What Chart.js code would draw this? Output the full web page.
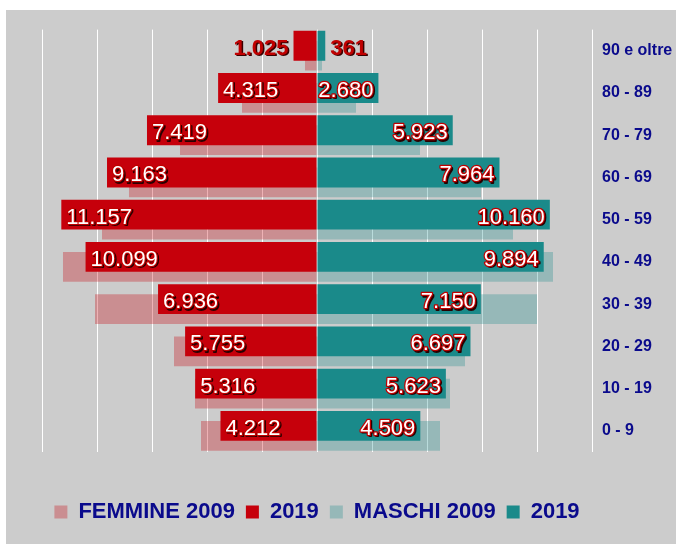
<!DOCTYPE html>
<html><head><meta charset="utf-8">
<script src="https://cdn.jsdelivr.net/npm/chart.js@4"></script>
<style>
html,body{margin:0;padding:0;background:#ffffff;}
#wrap{position:absolute;left:6px;top:10px;width:670px;height:534px;background:#cccccc;}
canvas{display:block;}
</style></head><body>
<div id="wrap"><canvas id="c" width="670" height="534"></canvas></div>
<script>
const categories = ['90 e oltre','80 - 89','70 - 79','60 - 69','50 - 59','40 - 49','30 - 39','20 - 29','10 - 19','0 - 9'];
const femmine2009 = [524, 3273, 5978, 8204, 9382, 11084, 9687, 6240, 5324, 5062];
const femmine2019 = [1025, 4315, 7419, 9163, 11157, 10099, 6936, 5755, 5316, 4212];
const maschi2009 = [218, 1702, 4495, 7156, 8553, 10298, 9600, 6458, 5804, 5367];
const maschi2019 = [361, 2680, 5923, 7964, 10160, 9894, 7150, 6697, 5623, 4509];
const legendLabels = ['FEMMINE 2009', '2019', 'MASCHI 2009', '2019'];
const axisMax = 12000;
const axisStep = 2400;

const FONT = "'Liberation Sans', Arial, Helvetica, sans-serif";
const RED = '#c6000b';
const TEAL = '#1a8a8a';
const RED09 = 'rgba(198,0,11,0.3)';
const TEAL09 = 'rgba(26,138,138,0.3)';
const NAVY = '#0a0a8c';

function fmt(v) { return String(v).replace(/\B(?=(\d{3})+(?!\d))/g, '.'); }

const valueLabels = {
  id: 'valueLabels',
  afterDatasetsDraw(chart) {
    const ctx = chart.ctx;
    [[1, femmine2019, -1], [3, maschi2019, 1]].forEach(([di, vals, dir]) => {
      const meta = chart.getDatasetMeta(di);
      meta.data.forEach((bar, i) => {
        const p = bar.getProps(['x', 'y', 'base'], true);
        const len = Math.abs(p.x - p.base);
        const text = fmt(vals[i]);
        ctx.save();
        ctx.font = '22px ' + FONT;
        const w = ctx.measureText(text).width;
        const inside = w + 4 <= len;
        const ty = p.y + 9;
        let tx, align;
        if (inside) {
          align = dir < 0 ? 'left' : 'right';
          tx = dir < 0 ? p.x + 5 : p.x - 5;
        } else {
          align = dir < 0 ? 'right' : 'left';
          tx = dir < 0 ? p.x - 5 : p.x + 5;
        }
        ctx.textAlign = align;
        ctx.textBaseline = 'alphabetic';
        ctx.lineJoin = 'round';
        if (inside) {
          ctx.fillStyle = '#2a0000';
          ctx.strokeStyle = '#2a0000';
          ctx.lineWidth = 2;
          ctx.strokeText(text, tx + 1.5, ty + 1.5);
          ctx.fillText(text, tx + 1.5, ty + 1.5);
          ctx.strokeStyle = '#c00000';
          ctx.lineWidth = 2.5;
          ctx.strokeText(text, tx, ty);
          ctx.fillStyle = '#ffffff';
          ctx.fillText(text, tx, ty);
        } else {
          ctx.font = 'bold 22px ' + FONT;
          ctx.fillStyle = '#3a0000';
          ctx.fillText(text, tx + 1.5, ty + 1.5);
          ctx.fillStyle = '#c00000';
          ctx.fillText(text, tx, ty);
        }
        ctx.restore();
      });
    });
  }
};

new Chart(document.getElementById('c'), {
  type: 'bar',
  data: {
    labels: categories,
    datasets: [
      { label: legendLabels[0], data: femmine2009.map(v => -v), backgroundColor: RED09, stack: 's2009', order: 2 },
      { label: legendLabels[1], data: femmine2019.map(v => -v), backgroundColor: RED, stack: 's2019', order: 1 },
      { label: legendLabels[2], data: maschi2009, backgroundColor: TEAL09, stack: 's2009', order: 2 },
      { label: legendLabels[3], data: maschi2019, backgroundColor: TEAL, stack: 's2019', order: 1 }
    ]
  },
  options: {
    indexAxis: 'y',
    responsive: false,
    animation: false,
    devicePixelRatio: 1,
    barPercentage: 3,
    categoryPercentage: 0.4706,
    borderWidth: 0,
    layout: { padding: { left: 36, top: 17, right: 0, bottom: 11 } },
    scales: {
      x: {
        type: 'linear', min: -axisMax, max: axisMax, stacked: true,
        ticks: { display: false, stepSize: axisStep },
        grid: { color: '#ffffff', lineWidth: 1, drawTicks: false },
        border: { display: false },
        afterFit(s) { s.height = 38; }
      },
      y: {
        position: 'right', stacked: true,
        grid: { display: false, drawTicks: false },
        border: { display: false },
        ticks: { color: NAVY, padding: 10, font: { family: FONT, size: 16, weight: 'bold' } },
        afterFit(s) { s.width = 84; }
      }
    },
    plugins: {
      tooltip: { enabled: false },
      legend: {
        position: 'bottom',
        fullSize: false,
        labels: {
          boxWidth: 13, boxHeight: 13, padding: 11, color: NAVY,
          font: { family: FONT, size: 22, weight: 'bold' },
          sort: (a, b) => a.datasetIndex - b.datasetIndex
        }
      }
    }
  },
  plugins: [valueLabels]
});
</script>
</body></html>
